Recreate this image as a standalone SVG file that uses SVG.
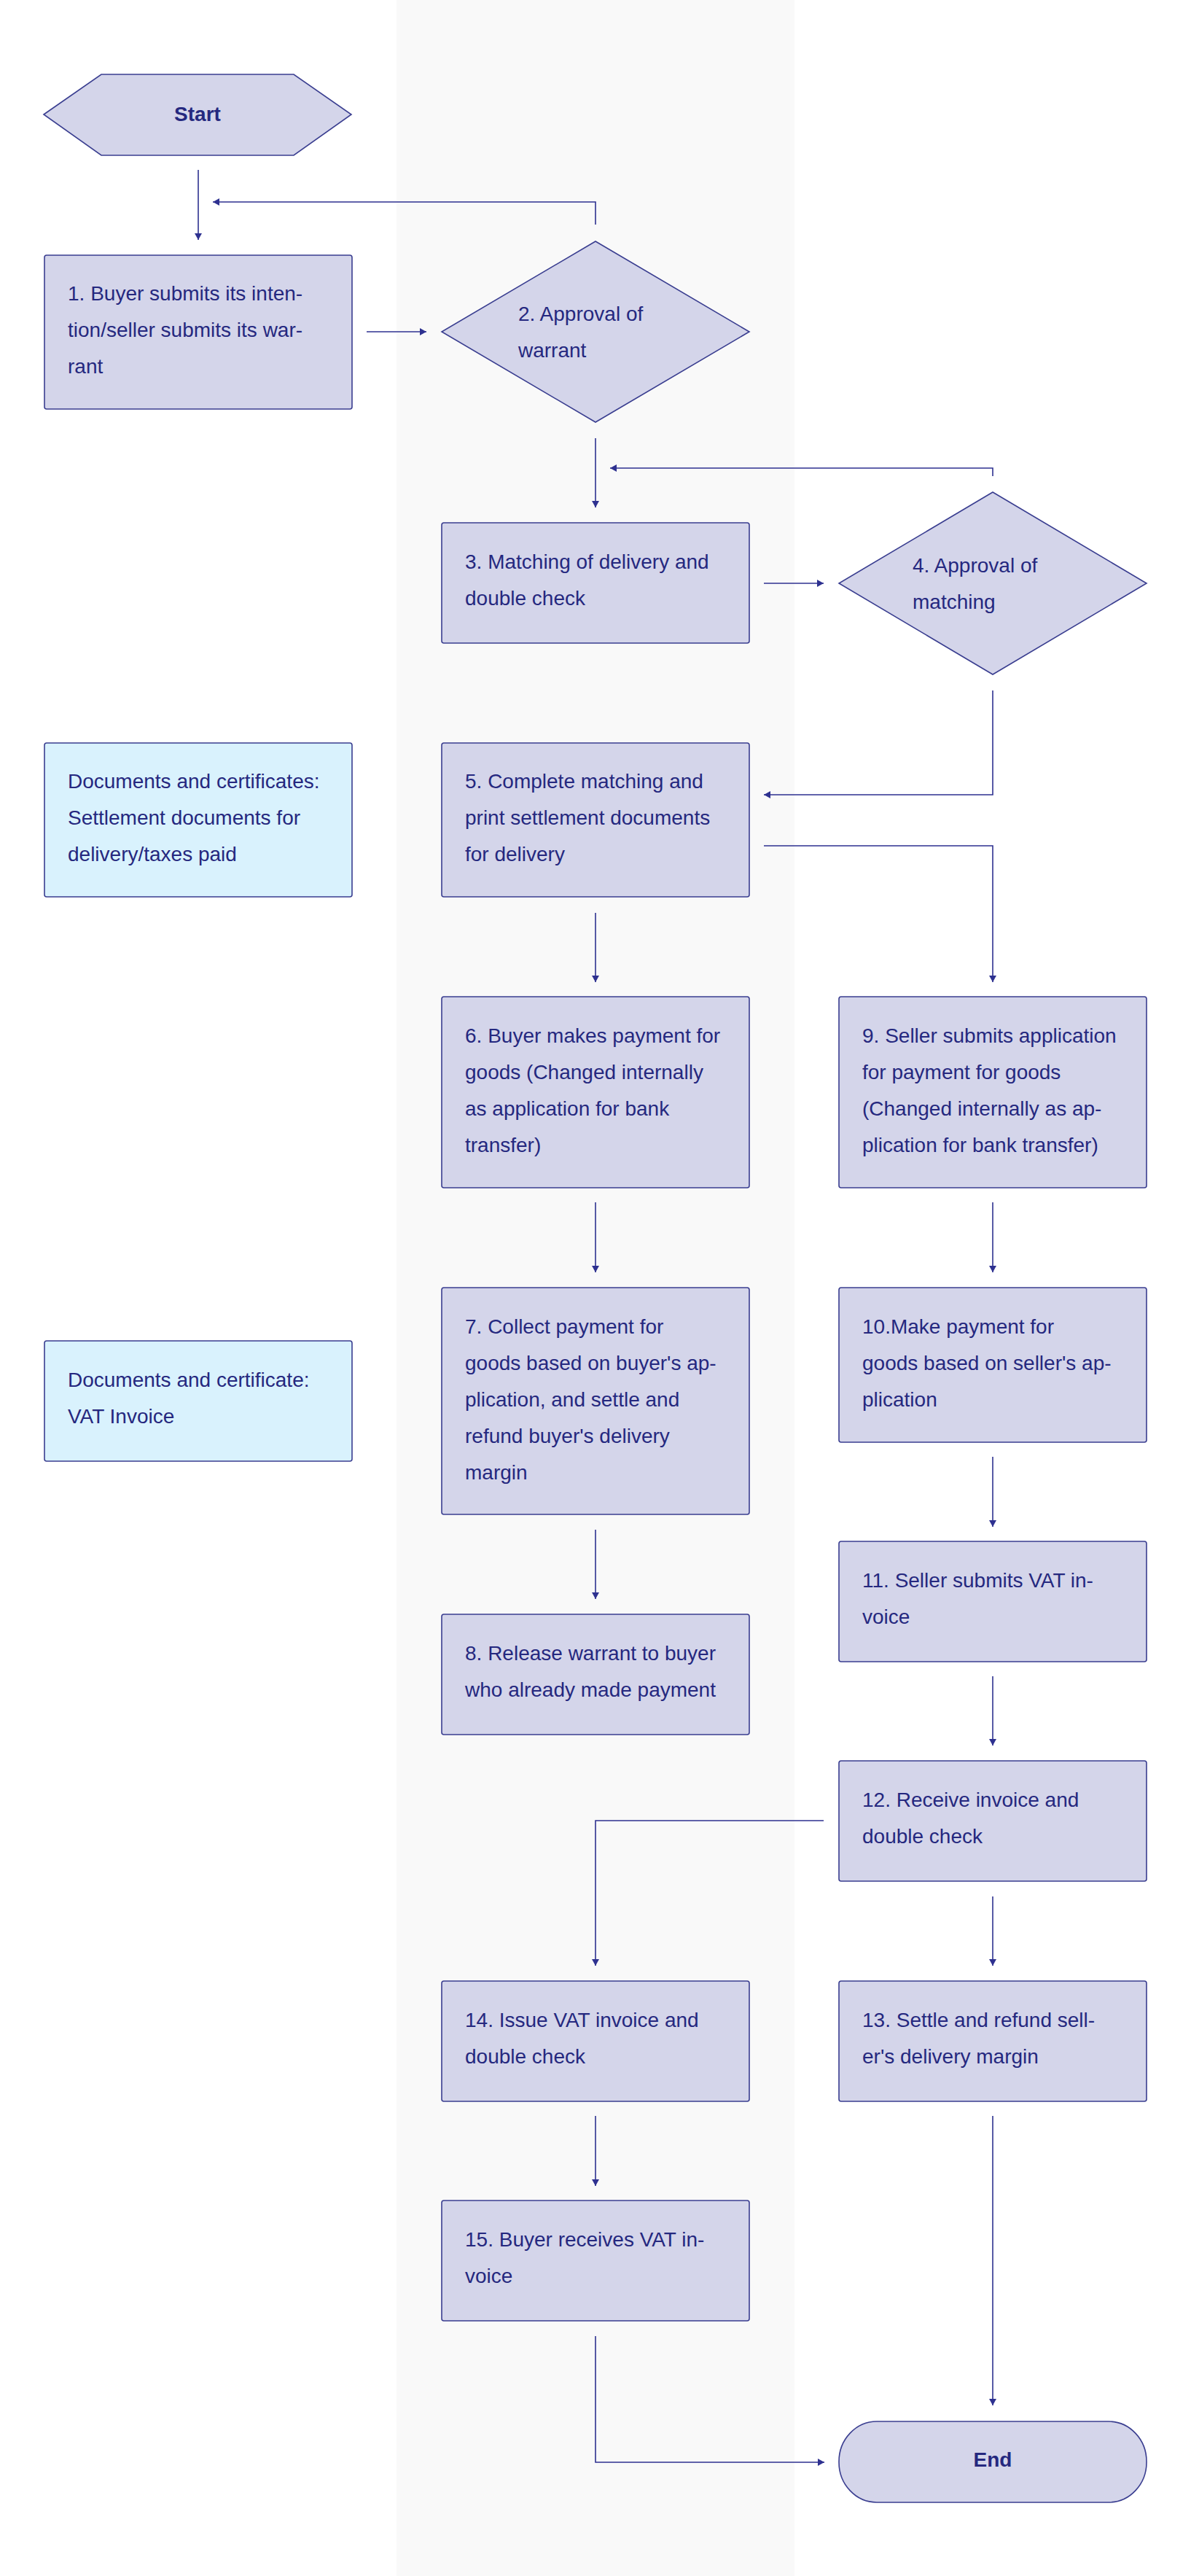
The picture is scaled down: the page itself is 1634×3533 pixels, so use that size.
<svg xmlns="http://www.w3.org/2000/svg" width="1634" height="3533" viewBox="0 0 1634 3533">
<style>
.t{font-family:"Liberation Sans",Arial,sans-serif;font-size:28px;fill:#25287f}
.b{font-weight:bold;text-anchor:middle}
.n{fill:#d4d5ea;stroke:#3a3e90;stroke-width:1.6}
.d{fill:#d9f2fd;stroke:#3a3e90;stroke-width:1.6}
.c{fill:none;stroke:#2e3190;stroke-width:1.6;marker-end:url(#ah)}
</style>
<defs>
<marker id="ah" markerUnits="userSpaceOnUse" markerWidth="12" markerHeight="12" refX="9" refY="5" orient="auto">
<path d="M0,0 L9,5 L0,10 z" fill="#2e3190"/>
</marker>
</defs>
<rect x="0" y="0" width="1634" height="3533" fill="#ffffff"/>
<rect x="544" y="0" width="546" height="3533" fill="#f9f9f9"/>

<g id="connectors">
<path class="c" d="M272,233 V329"/>
<path class="c" d="M817,308 V277 H292"/>
<path class="c" d="M503,455 H585"/>
<path class="c" d="M817,601 V696"/>
<path class="c" d="M1362,653 V642 H837"/>
<path class="c" d="M1048,800 H1130"/>
<path class="c" d="M1362,947 V1090 H1048"/>
<path class="c" d="M1048,1160 H1362 V1347"/>
<path class="c" d="M817,1252 V1347"/>
<path class="c" d="M817,1649 V1745"/>
<path class="c" d="M1362,1649 V1745"/>
<path class="c" d="M817,2098 V2193"/>
<path class="c" d="M1362,1998 V2094"/>
<path class="c" d="M1362,2299 V2394"/>
<path class="c" d="M1130,2497 H817 V2696"/>
<path class="c" d="M1362,2601 V2696"/>
<path class="c" d="M817,2902 V2998"/>
<path class="c" d="M1362,2902 V3299"/>
<path class="c" d="M817,3204 V3377 H1131"/>
</g>

<g id="start">
<polygon class="n" points="60,157 139,102 403,102 482,157 403,213 139,213"/>
<text class="t b" x="271" y="166">Start</text>
</g>

<g id="n1">
<rect class="n" x="61" y="350" width="422" height="211" rx="3"/>
<text class="t" x="93" y="412">1. Buyer submits its inten-</text>
<text class="t" x="93" y="462">tion/seller submits its war-</text>
<text class="t" x="93" y="512">rant</text>
</g>

<g id="n2">
<polygon class="n" points="817,331 1028,455 817,579 606,455"/>
<text class="t" x="711" y="440">2. Approval of</text>
<text class="t" x="711" y="490">warrant</text>
</g>

<g id="n3">
<rect class="n" x="606" y="717" width="422" height="165" rx="3"/>
<text class="t" x="638" y="780">3. Matching of delivery and</text>
<text class="t" x="638" y="830">double check</text>
</g>

<g id="n4">
<polygon class="n" points="1362,675 1573,800 1362,925 1151,800"/>
<text class="t" x="1252" y="785">4. Approval of</text>
<text class="t" x="1252" y="835">matching</text>
</g>

<g id="doc1">
<rect class="d" x="61" y="1019" width="422" height="211" rx="3"/>
<text class="t" x="93" y="1081">Documents and certificates:</text>
<text class="t" x="93" y="1131">Settlement documents for</text>
<text class="t" x="93" y="1181">delivery/taxes paid</text>
</g>

<g id="n5">
<rect class="n" x="606" y="1019" width="422" height="211" rx="3"/>
<text class="t" x="638" y="1081">5. Complete matching and</text>
<text class="t" x="638" y="1131">print settlement documents</text>
<text class="t" x="638" y="1181">for delivery</text>
</g>

<g id="n6">
<rect class="n" x="606" y="1367" width="422" height="262" rx="3"/>
<text class="t" x="638" y="1430">6. Buyer makes payment for</text>
<text class="t" x="638" y="1480">goods (Changed internally</text>
<text class="t" x="638" y="1530">as application for bank</text>
<text class="t" x="638" y="1580">transfer)</text>
</g>

<g id="n9">
<rect class="n" x="1151" y="1367" width="422" height="262" rx="3"/>
<text class="t" x="1183" y="1430">9. Seller submits application</text>
<text class="t" x="1183" y="1480">for payment for goods</text>
<text class="t" x="1183" y="1530">(Changed internally as ap-</text>
<text class="t" x="1183" y="1580">plication for bank transfer)</text>
</g>

<g id="doc2">
<rect class="d" x="61" y="1839" width="422" height="165" rx="3"/>
<text class="t" x="93" y="1902">Documents and certificate:</text>
<text class="t" x="93" y="1952">VAT Invoice</text>
</g>

<g id="n7">
<rect class="n" x="606" y="1766" width="422" height="311" rx="3"/>
<text class="t" x="638" y="1829">7. Collect payment for</text>
<text class="t" x="638" y="1879">goods based on buyer's ap-</text>
<text class="t" x="638" y="1929">plication, and settle and</text>
<text class="t" x="638" y="1979">refund buyer's delivery</text>
<text class="t" x="638" y="2029">margin</text>
</g>

<g id="n10">
<rect class="n" x="1151" y="1766" width="422" height="212" rx="3"/>
<text class="t" x="1183" y="1829">10.Make payment for</text>
<text class="t" x="1183" y="1879">goods based on seller's ap-</text>
<text class="t" x="1183" y="1929">plication</text>
</g>

<g id="n8">
<rect class="n" x="606" y="2214" width="422" height="165" rx="3"/>
<text class="t" x="638" y="2277">8. Release warrant to buyer</text>
<text class="t" x="638" y="2327">who already made payment</text>
</g>

<g id="n11">
<rect class="n" x="1151" y="2114" width="422" height="165" rx="3"/>
<text class="t" x="1183" y="2177">11. Seller submits VAT in-</text>
<text class="t" x="1183" y="2227">voice</text>
</g>

<g id="n12">
<rect class="n" x="1151" y="2415" width="422" height="165" rx="3"/>
<text class="t" x="1183" y="2478">12. Receive invoice and</text>
<text class="t" x="1183" y="2528">double check</text>
</g>

<g id="n14">
<rect class="n" x="606" y="2717" width="422" height="165" rx="3"/>
<text class="t" x="638" y="2780">14. Issue VAT invoice and</text>
<text class="t" x="638" y="2830">double check</text>
</g>

<g id="n13">
<rect class="n" x="1151" y="2717" width="422" height="165" rx="3"/>
<text class="t" x="1183" y="2780">13. Settle and refund sell-</text>
<text class="t" x="1183" y="2830">er's delivery margin</text>
</g>

<g id="n15">
<rect class="n" x="606" y="3018" width="422" height="165" rx="3"/>
<text class="t" x="638" y="3081">15. Buyer receives VAT in-</text>
<text class="t" x="638" y="3131">voice</text>
</g>

<g id="end">
<rect class="n" x="1151" y="3321" width="422" height="111" rx="52" ry="55"/>
<text class="t b" x="1362" y="3383">End</text>
</g>
</svg>
